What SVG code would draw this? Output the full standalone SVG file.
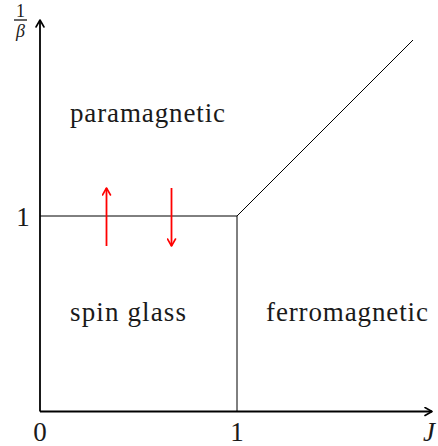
<svg xmlns="http://www.w3.org/2000/svg" width="438" height="446" viewBox="0 0 438 446">
<defs>
<marker id="ah" viewBox="0 0 10 10" refX="8" refY="5" markerWidth="10" markerHeight="10" markerUnits="userSpaceOnUse" orient="auto">
<path d="M1,1 L8,5 L1,9" fill="none" stroke="#000" stroke-width="1.6" stroke-linecap="round" stroke-linejoin="round"/>
</marker>
<marker id="ahr" viewBox="0 0 10 10" refX="8" refY="5" markerWidth="10" markerHeight="10" markerUnits="userSpaceOnUse" orient="auto">
<path d="M1,1 L8,5 L1,9" fill="none" stroke="#f00" stroke-width="1.6" stroke-linecap="round" stroke-linejoin="round"/>
</marker>
</defs>
<style>
text{font-family:"Liberation Serif","DejaVu Serif",serif;fill:#1a1a1a}
.lbl{font-size:27px}
.tk{font-size:27px}
.axis{stroke:#000;stroke-width:1.8;fill:none}
.ln{stroke:#000;stroke-width:1;fill:none}
.red{stroke:#f00;stroke-width:1.8;fill:none}
</style>
<rect width="438" height="446" fill="#fff"/>
<g id="connectors">
<line class="axis" x1="40" y1="411.5" x2="40" y2="20" marker-end="url(#ah)"/>
<line class="axis" x1="40" y1="411.5" x2="432" y2="411.5" marker-end="url(#ah)"/>
<line class="ln" x1="40" y1="216" x2="237" y2="216"/>
<line class="ln" x1="237" y1="216" x2="237" y2="411"/>
<line class="ln" x1="237" y1="216" x2="413" y2="40"/>
<line class="red" x1="106.5" y1="246" x2="106.5" y2="188" marker-end="url(#ahr)"/>
<line class="red" x1="171.5" y1="188" x2="171.5" y2="246" marker-end="url(#ahr)"/>
</g>
<g id="paramagnetic"><text class="lbl" x="70" y="122" textLength="155" lengthAdjust="spacing">paramagnetic</text></g>
<g id="spinglass"><text class="lbl" x="70" y="321" textLength="116" lengthAdjust="spacing">spin glass</text></g>
<g id="ferromagnetic"><text class="lbl" x="266" y="321" textLength="162" lengthAdjust="spacing">ferromagnetic</text></g>
<g id="ylabel">
<text x="20.5" y="17" font-size="18" text-anchor="middle">1</text>
<line x1="14" y1="20" x2="27" y2="20" stroke="#000" stroke-width="1.2"/>
<text x="20.5" y="37" font-size="18" font-style="italic" text-anchor="middle">β</text>
</g>
<g id="ticks">
<text class="tk" x="23" y="226" text-anchor="middle">1</text>
<text class="tk" x="40" y="441" text-anchor="middle">0</text>
<text class="tk" x="237" y="441" text-anchor="middle">1</text>
<text class="tk" x="429" y="441" font-style="italic" text-anchor="middle">J</text>
</g>
</svg>
